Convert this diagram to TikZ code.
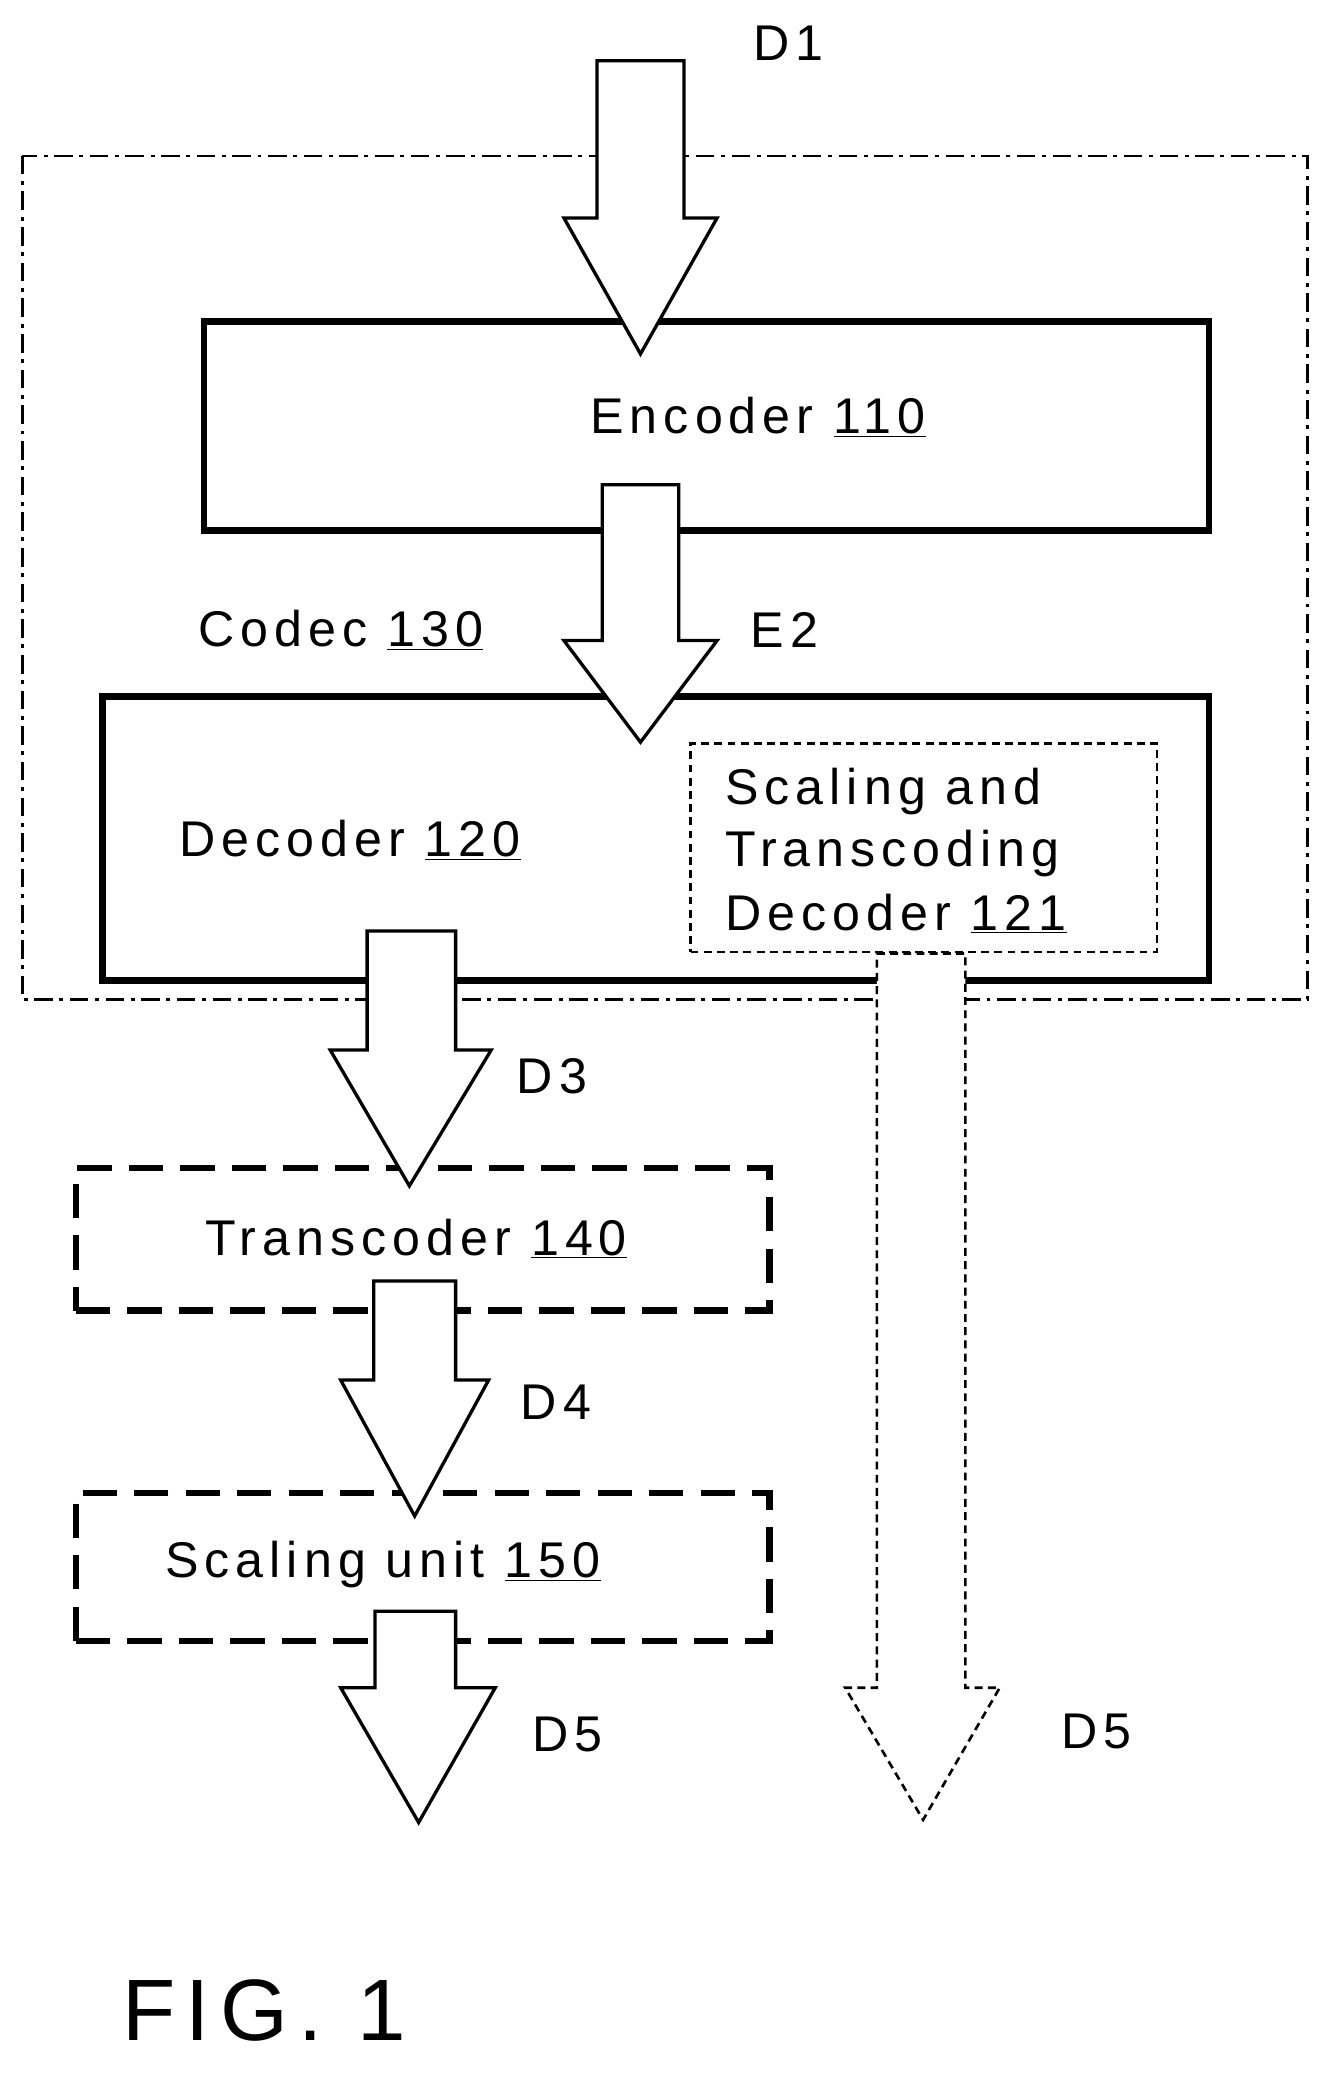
\documentclass[tikz,border=0pt]{standalone}
\usepackage{fontspec}
\setmainfont[LetterSpace=12]{Liberation Sans}
\begin{document}
\begin{tikzpicture}[x=1pt,y=-1pt,
  lbl/.style={font=\fontsize{38}{47}\selectfont, inner sep=0pt},
  box/.style={draw, line width=5pt},
  dbox/.style={draw, line width=5pt, dash pattern=on 26pt off 13pt},
  arr/.style={draw, fill=white, line width=2.5pt, line join=miter},
  darr/.style={draw, fill=white, line width=2pt, dash pattern=on 6pt off 4pt}]
\useasboundingbox (0,0) rectangle (1010,1572);
% dash-dot codec boundary
\draw[line width=2pt, dash pattern=on 14pt off 5pt on 3pt off 5pt] (17,118) rectangle (990,757);
\node[box, minimum width=761pt, minimum height=158pt, anchor=north west] (enc) at (152,241) {};
\node[box, minimum width=838pt, minimum height=215pt, anchor=north west] (dec) at (75,525) {};
\node[draw, line width=1.8pt, dash pattern=on 6pt off 4pt, minimum width=353pt, minimum height=158pt, anchor=north west] (sdec) at (522,562) {};
\node[dbox, minimum width=525pt, minimum height=108pt, anchor=north west] (tc) at (55,882) {};
\node[dbox, minimum width=525pt, minimum height=112pt, anchor=north west] (su) at (55,1128) {};
% arrows
\draw[arr] (452,46) -- (518,46) -- (518,165) -- (543,165) -- (485,268) -- (427,165) -- (452,165) -- cycle;
\draw[arr] (456,367) -- (514,367) -- (514,485) -- (543,485) -- (485,562) -- (427,485) -- (456,485) -- cycle;
\draw[arr] (278,705) -- (345,705) -- (345,795) -- (372,795) -- (310,898) -- (250,795) -- (278,795) -- cycle;
\draw[arr] (283,970) -- (345,970) -- (345,1045) -- (370,1045) -- (314,1148) -- (258,1045) -- (283,1045) -- cycle;
\draw[arr] (284,1220) -- (345,1220) -- (345,1278) -- (375,1278) -- (317,1380) -- (258,1278) -- (284,1278) -- cycle;
\draw[darr] (664,722) -- (731,722) -- (731,1278) -- (757,1278) -- (699,1378) -- (640,1278) -- (664,1278) -- cycle;
% labels
\node[lbl] (t1) at (597,33) {D1};
\node[lbl] (t2) at (574,316) {Encoder \underline{110}};
\node[lbl] (t3) at (258,477) {Codec \underline{130}};
\node[lbl] (t4) at (594,477) {E2};
\node[lbl] (t5) at (265,636) {Decoder \underline{120}};
\node[lbl, anchor=west] (t6) at (549,599) {Scaling and};
\node[lbl, anchor=west] (t7) at (549,646) {Transcoding};
\node[lbl, anchor=west] (t8) at (549,692) {Decoder \underline{121}};
\node[lbl] (t9) at (418,815) {D3};
\node[lbl] (t10) at (315,938) {Transcoder \underline{140}};
\node[lbl] (t11) at (421,1062) {D4};
\node[lbl] (t12) at (290,1185) {Scaling unit \underline{150}};
\node[lbl] (t13) at (430,1313) {D5};
\node[lbl] (t14) at (830,1311) {D5};
\node[font=\fontsize{66}{76}\selectfont, inner sep=0pt] (fig) at (200,1522) {FIG. 1};
\end{tikzpicture}
\end{document}
